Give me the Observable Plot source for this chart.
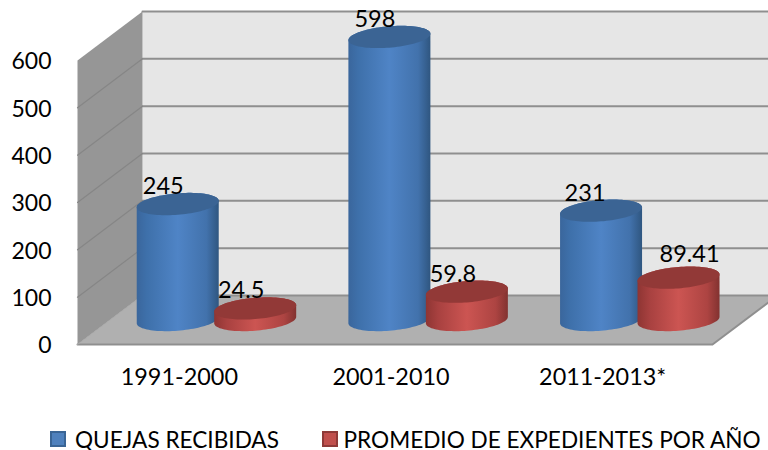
<!DOCTYPE html>
<html>
<head>
<meta charset="utf-8">
<script src="https://cdn.jsdelivr.net/npm/d3@7"></script>
<script src="https://cdn.jsdelivr.net/npm/@observablehq/plot@0.6"></script>
<style>
  html,body{margin:0;padding:0;background:#fff;width:768px;height:450px;overflow:hidden}
  #legend{position:relative;height:50px;font-family:Lato,sans-serif;font-size:22.6px;color:#000}
  #legend span{position:absolute;top:29.5px;line-height:20px;height:20px;white-space:nowrap}
  #legend i{position:absolute;top:31px;width:12px;height:12px;border-width:2px;border-style:solid}
</style>
</head>
<body>
<div id="chart"></div>
<div id="legend"></div>
<script>
const categories = ["1991-2000", "2001-2010", "2011-2013*"];
const seriesNames = ["QUEJAS RECIBIDAS", "PROMEDIO DE EXPEDIENTES POR AÑO"];
const quejas = [245, 598, 231];
const promedio = [24.5, 59.8, 89.41];
const labelsQuejas = ["245", "598", "231"];
const labelsPromedio = ["24.5", "59.8", "89.41"];
const yTicks = [0, 100, 200, 300, 400, 500, 600];

// oblique projection of the 3-D box, expressed in scale units
const yMax = 600, xMax = 3;
const depthX = 0.307, depthY = 103.5;   // back of box relative to the front
const barDepth = 0.5;
const shift = (u, v, d) => ({x: u + d * depthX, y: v + d * depthY});
const poly = (pts, o) => Plot.line(pts, {x: "x", y: "y", stroke: "none", ...o});
const ell = {a: 0.1937, b: 22.6, s: 6.8};  // cylinder cap: half width, half height, tilt
const capPt = (cx, v, t) => shift(
  cx + ell.a * Math.cos(t),
  v + ell.b * Math.sin(t) + ell.s * Math.cos(t),
  barDepth);
const steps = d3.range(0, 49).map(i => i / 48);
const cap = (cx, v) => [...steps, ...steps.map(s => s + 1)].map(s => capPt(cx, v, s * Math.PI));
const body = (cx, v) => [
  ...steps.map(s => capPt(cx, 0, Math.PI + s * Math.PI)),
  ...steps.map(s => capPt(cx, v, s * Math.PI))
];

const series = [
  {values: quejas, offset: 0.32, grad: "url(#gBlue)", top: "#3b6494"},
  {values: promedio, offset: 0.686, grad: "url(#gRed)", top: "#923937"}
];

const cylinders = [];
categories.forEach((_, i) => series.forEach(s => {
  const cx = i + s.offset, v = s.values[i];
  cylinders.push(poly(body(cx, v), {fill: s.grad}));
  cylinders.push(poly(cap(cx, v), {fill: s.top}));
}));

const rows = [];
categories.forEach((_, i) => {
  rows.push({...shift(i + series[0].offset, quejas[i], barDepth), t: labelsQuejas[i], off: i === 2 ? -16 : -14.5, up: -17.5});
  rows.push({...shift(i + series[1].offset, promedio[i], barDepth), t: labelsPromedio[i], off: i === 2 ? 11 : -14, up: i === 2 ? -23.5 : -17.5});
});
const labelMark = r => Plot.text([r], {x: "x", y: "y", text: "t", dx: r.off, dy: r.up, fontSize: 23.5, fill: "#000"});

const gridColor = "#8f8f8f";
const plot = Plot.plot({
  width: 768, height: 400,
  marginLeft: 77, marginRight: 56, marginTop: 60, marginBottom: 56,
  style: {fontFamily: "Lato, sans-serif", background: "transparent", overflow: "visible"},
  x: {domain: [0, xMax]},
  y: {domain: [0, yMax]},
  marks: [
    () => d3.create("svg:defs").html(`
      <linearGradient id="gBlue" x1="0" x2="1" y1="0" y2="0">
        <stop offset="0" stop-color="#3a669c"/><stop offset=".12" stop-color="#3e70aa"/>
        <stop offset=".5" stop-color="#4f84c6"/><stop offset=".85" stop-color="#4272ac"/>
        <stop offset="1" stop-color="#2f5680"/></linearGradient>
      <linearGradient id="gRed" x1="0" x2="1" y1="0" y2="0">
        <stop offset="0" stop-color="#8e3533"/><stop offset=".15" stop-color="#a84140"/>
        <stop offset=".5" stop-color="#cc5552"/><stop offset=".85" stop-color="#ad4442"/>
        <stop offset="1" stop-color="#823230"/></linearGradient>`).node(),
    // back wall
    poly([shift(0,0,1), shift(xMax,0,1), shift(xMax,yMax,1), shift(0,yMax,1)], {fill: "#e6e6e6"}),
    // side wall
    poly([shift(0,0,0), shift(0,0,1), shift(0,yMax,1), shift(0,yMax,0)], {fill: "#969696"}),
    // floor
    poly([shift(0,0,0), shift(xMax,0,0), shift(xMax,0,1), shift(0,0,1)], {fill: "#b0b0b0"}),
    // grid on back wall and side wall
    ...yTicks.map(v => Plot.line([shift(0,v,1), shift(xMax,v,1)], {x: "x", y: "y", stroke: gridColor, strokeWidth: 2})),
    ...yTicks.slice(1, -1).map(v => Plot.line([shift(0,v,0), shift(0,v,1)], {x: "x", y: "y", stroke: "#868686", strokeWidth: 1.2})),
    Plot.line([shift(0,0,0), shift(xMax,0,0), shift(xMax,0,1)], {x: "x", y: "y", stroke: gridColor, strokeWidth: 2}),
    Plot.line([shift(0,0,0), shift(0,0,1)], {x: "x", y: "y", stroke: "#a8a8a8", strokeWidth: 1}),
    ...cylinders,
    ...rows.map(labelMark),
    Plot.axisY({ticks: yTicks, tickSize: 0, tickPadding: 26, dy: 1.5, fontSize: 23, label: null, fill: "#000"}),
    Plot.axisX({ticks: [0.5, 1.5, 2.5], tickFormat: u => categories[Math.floor(u)], tickSize: 0, tickPadding: 24, dx: -4, fontSize: 23.4, label: null, fill: "#000"})
  ]
});
document.getElementById("chart").appendChild(plot);

const legend = document.getElementById("legend");
[[50, 75, "#4f81bd", "#3a6595"], [322, 343.5, "#c0504d", "#8e3a38"]].forEach((c, i) => {
  const sw = document.createElement("i");
  sw.style.cssText = `left:${c[0]}px;background:${c[2]};border-color:${c[3]}`;
  const tx = document.createElement("span");
  tx.style.left = c[1] + "px";
  tx.textContent = seriesNames[i];
  legend.append(sw, tx);
});
</script>
</body>
</html>
